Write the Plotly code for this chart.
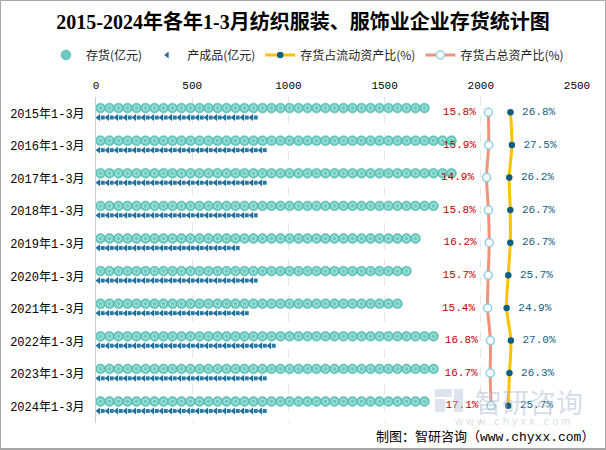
import numpy as np
import plotly.graph_objects as go

# ---------------- data ----------------
categories = ["2015年1-3月", "2016年1-3月", "2017年1-3月", "2018年1-3月", "2019年1-3月",
              "2020年1-3月", "2021年1-3月", "2022年1-3月", "2023年1-3月", "2024年1-3月"]
inventory = [1753, 1870, 1874, 1814, 1698, 1646, 1603, 1800, 1776, 1741]          # 存货(亿元)
finished_goods = [844, 922, 925, 865, 790, 856, 835, 939, 925, 904]               # 产成品(亿元)
ratio_current = [26.8, 27.5, 26.2, 26.7, 26.7, 25.7, 24.9, 27.0, 26.3, 25.7]      # 存货占流动资产比(%)
ratio_total = [15.8, 15.9, 14.9, 15.8, 16.2, 15.7, 15.4, 16.8, 16.7, 17.1]        # 存货占总资产比(%)
x_ticks = [0, 500, 1000, 1500, 2000, 2500]

# ---------------- layout constants ----------------
W, H = 606, 450
L, R, T, B = 96, 29, 97, 27
PLOT_W = W - L - R
PLOT_H = H - T - B
X_MAX = 2500
PX_PER_UNIT = PLOT_W / X_MAX
SYMBOL_STEP_PX = 9.0

MONO_CJK = "Liberation Mono, Noto Sans CJK SC, sans-serif"

def repeat_positions(value, row, shift_px=0.0):
    """Centers of repeated pictorial symbols for one bar (derived from the value via the axis scale)."""
    end_px = value * PX_PER_UNIT
    xs = []
    c = SYMBOL_STEP_PX / 2
    while c <= end_px - 3.5:
        xs.append((c + shift_px) / PX_PER_UNIT)
        c += SYMBOL_STEP_PX
    return xs, [row] * len(xs)

idx = list(range(len(categories)))
inv_x, inv_y = [], []
fg_head_x, fg_body_x, fg_y = [], [], []
for i, (v1, v2) in enumerate(zip(inventory, finished_goods)):
    xs, ys = repeat_positions(v1, i - 0.16)
    inv_x += xs; inv_y += ys
    xs, ys = repeat_positions(v2, i + 0.13, -2.0)
    fg_head_x += xs; fg_y += ys
    xs, _ = repeat_positions(v2, i + 0.13, 2.2)
    fg_body_x += xs

fig = go.Figure()

# 存货 pictorial bar (circles)
fig.add_trace(go.Scatter(
    x=inv_x, y=inv_y, mode="markers", name="存货(亿元)",
    marker=dict(symbol="circle", size=9.8, color="#6cc9c0",
                line=dict(color="#52b8ad", width=0.6)),
    hoverinfo="skip",
))
fig.add_trace(go.Scatter(
    x=inv_x, y=inv_y, mode="markers", showlegend=False,
    marker=dict(symbol="circle-open", size=5, color="#b8ebe5", line=dict(width=1)),
    hoverinfo="skip",
))
# 产成品 pictorial bar (small fish-like symbol: head + body)
fig.add_trace(go.Scatter(
    x=fg_head_x, y=fg_y, mode="markers", name="产成品(亿元)",
    marker=dict(symbol="triangle-left", size=6, color="#1f6f9f"),
    hoverinfo="skip",
))
fig.add_trace(go.Scatter(
    x=fg_body_x, y=fg_y, mode="markers", showlegend=False,
    marker=dict(symbol="square", size=4, color="#2a7aa6"),
    hoverinfo="skip",
))

# ratio lines on a hidden secondary x axis
fig.add_trace(go.Scatter(
    x=ratio_current, y=[i - 0.03 for i in idx], xaxis="x2", mode="lines+markers+text",
    name="存货占流动资产比(%)",
    line=dict(color="#ffc000", width=3, shape="spline"),
    marker=dict(symbol="circle", size=6.5, color="#0f5f84"),
    text=[f" {v:.1f}%" for v in ratio_current], textposition="middle right",
    textfont=dict(family=MONO_CJK, size=11, color="#0f5f84"),
    cliponaxis=False,
))
fig.add_trace(go.Scatter(
    x=ratio_total, y=[i - 0.03 for i in idx], xaxis="x2", mode="lines+markers+text",
    name="存货占总资产比(%)",
    line=dict(color="#f0937c", width=3, shape="spline"),
    marker=dict(symbol="circle", size=8, color="#ffffff", line=dict(color="#8fd0e6", width=1.5)),
    text=[f"{v:.1f}% " for v in ratio_total], textposition="middle left",
    textfont=dict(family=MONO_CJK, size=11, color="#c00000"),
    cliponaxis=False,
))

def px_to_paper_x(px):
    return (px - L) / PLOT_W

def px_to_paper_y(py):
    return (H - B - py) / PLOT_H

fig.update_layout(
    width=W, height=H,
    margin=dict(l=L, r=R, t=T, b=B, autoexpand=False),
    paper_bgcolor="#ffffff", plot_bgcolor="#ffffff",
    font=dict(family=MONO_CJK, size=12, color="#000000"),
    title=dict(text="<b>2015-2024年各年1-3月纺织服装、服饰业企业存货统计图</b>",
               font=dict(family="Liberation Serif, Noto Sans CJK SC, serif", size=20, color="#000000"),
               x=0.5, xref="container", xanchor="center",
               y=1 - 22 / H, yref="container", yanchor="middle"),
    legend=dict(orientation="h", x=px_to_paper_x(46), xref="paper", xanchor="left",
                y=px_to_paper_y(55), yref="paper", yanchor="middle",
                font=dict(family="Noto Sans CJK SC, sans-serif", size=12, color="#222222"),
                itemwidth=30, tracegroupgap=0, traceorder="normal"),
    xaxis=dict(range=[0, X_MAX], side="top", tickvals=x_ticks, ticktext=[str(t) for t in x_ticks],
               showgrid=True, gridcolor="#e6e6e6", griddash="dash", gridwidth=1,
               zeroline=False, showline=False, ticks="", ticklabelstandoff=5,
               tickfont=dict(family=MONO_CJK, size=11, color="#000000")),
    xaxis2=dict(range=[-180, 60], overlaying="x", side="top", visible=False),
    yaxis=dict(range=[len(categories) - 0.5, -0.5], tickvals=idx, ticktext=categories,
               showgrid=False, zeroline=False, showline=True, linecolor="#cccccc", linewidth=1,
               ticks="", ticklabelstandoff=8,
               tickfont=dict(family=MONO_CJK, size=12, color="#000000")),
    showlegend=True,
)

# watermark
fig.add_annotation(text="智研咨询", xref="paper", yref="paper",
                   x=px_to_paper_x(529), y=px_to_paper_y(401), xanchor="center", yanchor="middle",
                   showarrow=False, font=dict(family="Noto Sans CJK SC", size=27, color="rgba(175,188,205,0.5)"))
fig.add_annotation(text="w w w . c h y x x . c o m", xref="paper", yref="paper",
                   x=px_to_paper_x(512), y=px_to_paper_y(421), xanchor="center", yanchor="middle",
                   showarrow=False, font=dict(family="Liberation Sans", size=11, color="rgba(175,185,195,0.5)"))
for (x0, y0, x1, y1) in [(435, 389, 452, 397), (435, 399, 445, 412), (454, 389, 463, 412)]:
    fig.add_shape(type="rect", xref="paper", yref="paper",
                  x0=px_to_paper_x(x0), x1=px_to_paper_x(x1), y0=px_to_paper_y(y1), y1=px_to_paper_y(y0),
                  line=dict(width=0), fillcolor="rgba(180,195,215,0.45)", layer="above")

# source note
fig.add_annotation(text="制图：智研咨询（www.chyxx.com）", xref="paper", yref="paper",
                   x=px_to_paper_x(596), y=px_to_paper_y(437), xanchor="right", yanchor="middle",
                   showarrow=False, font=dict(family=MONO_CJK, size=13, color="#000000"))

# outer border
fig.add_shape(type="rect", xref="paper", yref="paper",
              x0=px_to_paper_x(0.5), x1=px_to_paper_x(W - 0.5), y0=px_to_paper_y(H - 1), y1=px_to_paper_y(0.5),
              line=dict(color="#a6a6a6", width=1), fillcolor="rgba(0,0,0,0)", layer="above")
fig.add_shape(type="line", xref="paper", yref="paper",
              x0=px_to_paper_x(0), x1=px_to_paper_x(W), y0=px_to_paper_y(H - 1), y1=px_to_paper_y(H - 1),
              line=dict(color="#a6a6a6", width=2), layer="above")

fig.write_html("out.html", config={"displayModeBar": False},
               post_script="document.body.style.margin='0';document.body.style.padding='0';")
